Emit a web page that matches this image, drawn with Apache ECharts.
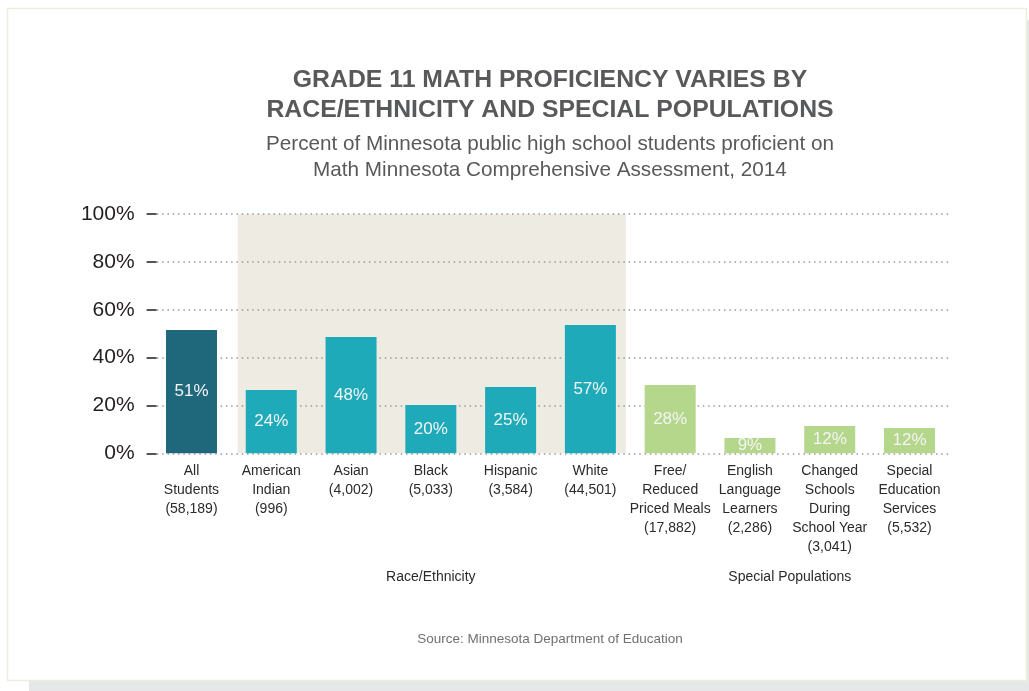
<!DOCTYPE html>
<html>
<head>
<meta charset="utf-8">
<script src="https://cdn.jsdelivr.net/npm/echarts@6/dist/echarts.min.js"></script>
<style>
html,body{margin:0;padding:0;background:#fff;}
#c{width:1029px;height:691px;}
</style>
</head>
<body>
<div id="c"></div>
<script>
// ---- data ----
var categories = [
  'All\nStudents\n(58,189)',
  'American\nIndian\n(996)',
  'Asian\n(4,002)',
  'Black\n(5,033)',
  'Hispanic\n(3,584)',
  'White\n(44,501)',
  'Free/\nReduced\nPriced Meals\n(17,882)',
  'English\nLanguage\nLearners\n(2,286)',
  'Changed\nSchools\nDuring\nSchool Year\n(3,041)',
  'Special\nEducation\nServices\n(5,532)'
];
// bar heights as drawn in the picture (percent)
var barHeights = [51.5, 26.5, 48.6, 20.2, 27.7, 53.6, 28.5, 6.4, 11.4, 10.6];
// printed value labels
var valueLabels = ['51%', '24%', '48%', '20%', '25%', '57%', '28%', '9%', '12%', '12%'];
var groups = ['all', 'race', 'race', 'race', 'race', 'race', 'special', 'special', 'special', 'special'];
var groupRanges = { race: [1, 5], special: [6, 9] };
var groupNames = { race: 'Race/Ethnicity', special: 'Special Populations' };
var yTicks = [0, 20, 40, 60, 80, 100];

var colors = { all: '#1f687c', race: '#1eaab9', special: '#b5d78c' };
var FONT = '"Liberation Sans", Arial, sans-serif';

var chart = echarts.init(document.getElementById('c'), null, { renderer: 'canvas' });

var barData = barHeights.map(function (v, i) {
  return { value: v, itemStyle: { color: colors[groups[i]] } };
});

var option = {
  backgroundColor: '#ffffff',
  animation: false,
  title: [
    {
      text: 'GRADE 11 MATH PROFICIENCY VARIES BY\nRACE/ETHNICITY AND SPECIAL POPULATIONS',
      left: 545, top: 60, textAlign: 'center',
      textStyle: { fontFamily: FONT, fontSize: 24.8, fontWeight: 'bold', color: '#58595b', lineHeight: 30 }
    },
    {
      text: 'Percent of Minnesota public high school students proficient on\nMath Minnesota Comprehensive Assessment, 2014',
      left: 545, top: 126, textAlign: 'center',
      textStyle: { fontFamily: FONT, fontSize: 20.7, fontWeight: 'normal', color: '#58595b', lineHeight: 26 }
    },
    {
      text: 'Source: Minnesota Department of Education',
      left: 545, top: 627, textAlign: 'center',
      textStyle: { fontFamily: FONT, fontSize: 13.5, fontWeight: 'normal', color: '#707070' }
    }
  ],
  grid: { left: 151.6, right: 79.6, top: 214, bottom: 237.7, containLabel: false },
  xAxis: {
    type: 'category',
    data: categories,
    axisLine: { show: false },
    axisTick: { show: false },
    axisLabel: {
      interval: 0, margin: 8, fontFamily: FONT, fontSize: 14, lineHeight: 19, color: '#2b2b2b'
    }
  },
  yAxis: {
    type: 'value',
    min: 0, max: 100, interval: 20,
    offset: -5,
    axisLine: { show: false },
    axisTick: { show: true, length: 10, lineStyle: { color: '#555', width: 2 } },
    axisLabel: {
      margin: 22, fontFamily: FONT, fontSize: 21, color: '#231f20',
      formatter: function (v) { return yTicks.indexOf(v) >= 0 ? v + '%' : ''; }
    },
    splitLine: { show: true, lineStyle: { color: '#9a9a9a', width: 1.5, type: [1.5, 3.8] } }
  },
  series: [
    {
      type: 'custom',
      z: -1,
      silent: true,
      data: [[groupRanges.race[0], groupRanges.race[1]]],
      renderItem: function (params, api) {
        var s = api.value(0), e = api.value(1);
        var bw = api.size([1, 0])[0];
        var pTop = api.coord([s, 100]);
        var pBot = api.coord([s, 0]);
        var pEnd = api.coord([e, 0]);
        var x0 = pTop[0] - 0.42 * bw;
        var x1 = pEnd[0] + 0.445 * bw;
        return {
          type: 'rect',
          shape: { x: x0, y: pTop[1], width: x1 - x0, height: pBot[1] - pTop[1] },
          style: { fill: '#eeebe3' }
        };
      }
    },
    {
      type: 'bar',
      data: barData,
      barWidth: 51,
      z: 3,
      label: {
        show: true, position: 'inside',
        fontFamily: FONT, fontSize: 17, color: '#f4f4f4',
        formatter: function (p) { return valueLabels[p.dataIndex]; }
      }
    }
  ]
};
chart.setOption(option);

// frame + group labels
function centerOf(range) {
  var a = chart.convertToPixel({ xAxisIndex: 0 }, range[0]);
  var b = chart.convertToPixel({ xAxisIndex: 0 }, range[1]);
  return (a + b) / 2;
}
var baseY = chart.convertToPixel({ yAxisIndex: 0 }, 0);
var gfx = [
  { type: 'rect', z: -10, silent: true, shape: { x: 29, y: 681, width: 1000, height: 10 }, style: { fill: '#e6e7e8' } },
  { type: 'rect', z: -10, silent: true, shape: { x: 1027, y: 20, width: 2, height: 671 }, style: { fill: '#e6e7e8' } },
  { type: 'rect', z: -9, silent: true, shape: { x: 7.5, y: 8.5, width: 1019, height: 672 }, style: { fill: '#ffffff', stroke: '#e9f0dc', lineWidth: 1.5 } }
];
Object.keys(groupRanges).forEach(function (k) {
  gfx.push({
    type: 'text', silent: true,
    x: centerOf(groupRanges[k]), y: baseY + 124,
    style: { text: groupNames[k], fontFamily: FONT, fontSize: 14, fill: '#2b2b2b', align: 'center', verticalAlign: 'middle' }
  });
});
chart.setOption({ graphic: gfx });
</script>
</body>
</html>
